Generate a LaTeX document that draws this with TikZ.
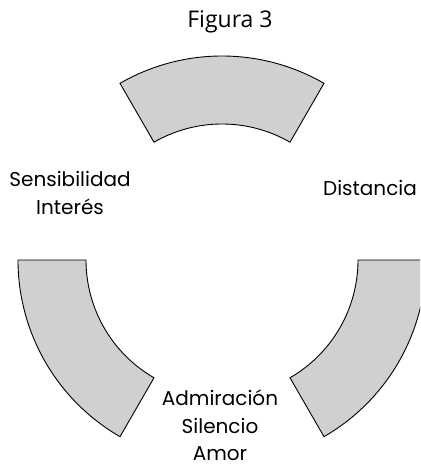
\documentclass[tikz,border=0pt]{standalone}
\usepackage{fontspec}
\setmainfont{Poppins}
\newfontfamily\titlefont{Open Sans}
\definecolor{segfill}{RGB}{207,208,210}
\tikzset{
  seg/.style={fill=segfill, draw=black, line width=0.9pt, line join=miter},
  lbl/.style={anchor=base, inner sep=0pt, font=\fontsize{20}{28}\selectfont},
  ttl/.style={anchor=base, inner sep=0pt, font=\titlefont\fontsize{23}{28}\selectfont}
}
\begin{document}
\begin{tikzpicture}[x=1pt,y=1pt]
\useasboundingbox (0,0) rectangle (420,468);
\clip (0,0) rectangle (420,468);
\begin{scope}[shift={(222,208)}]
  \draw[seg] (60:204) arc[start angle=60,end angle=120,radius=204] -- (120:136) arc[start angle=120,end angle=60,radius=136] -- cycle;
  \draw[seg] (180:204) arc[start angle=180,end angle=240,radius=204] -- (240:136) arc[start angle=240,end angle=180,radius=136] -- cycle;
  \draw[seg] (300:204) arc[start angle=300,end angle=360,radius=204] -- (360:136) arc[start angle=360,end angle=300,radius=136] -- cycle;
\end{scope}
\node[ttl] (title) at (230,440) {Figura 3};
\node[lbl] (sens) at (70,281) {Sensibilidad};
\node[lbl] (inter) at (70,253) {Interés};
\node[lbl] (dist) at (370,272) {Distancia};
\node[lbl] (adm) at (220,62) {Admiración};
\node[lbl] (sil) at (220,34) {Silencio};
\node[lbl] (amor) at (220,7) {Amor};
\end{tikzpicture}
\end{document}
